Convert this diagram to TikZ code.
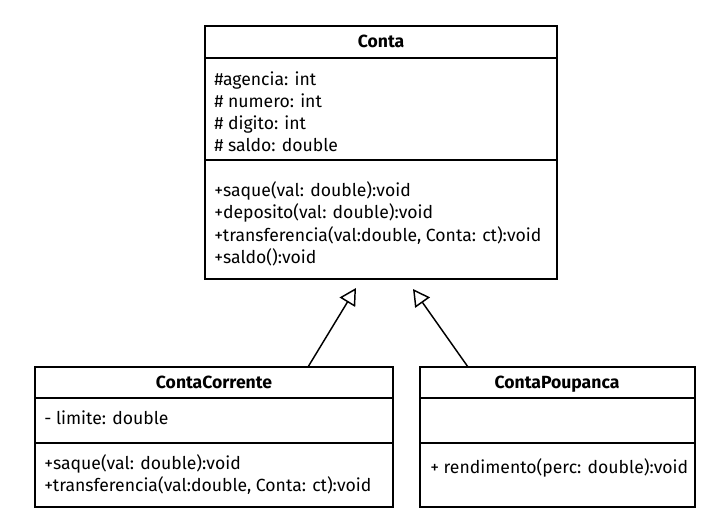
\documentclass[tikz,border=0pt]{standalone}
\usepackage{fontspec}
\setmainfont{Fira Sans}
\usetikzlibrary{arrows.meta}
\tikzset{
  box/.style={draw, line width=1.4pt},
  sep/.style={line width=1.1pt},
  txt/.style={anchor=west, inner sep=0pt, text height=9.5pt, text depth=3pt, font=\fontsize{13.2}{15}\selectfont},
  head/.style={anchor=center, inner sep=0pt, text height=9.5pt, text depth=3pt, font=\fontsize{13.2}{15}\selectfont\bfseries},
  inherit/.style={line width=1.1pt, -{Triangle[open, length=12.5pt, width=13.5pt, line width=1.1pt]}},
}
\begin{document}
\begin{tikzpicture}[x=0.75pt, y=-0.75pt]
\useasboundingbox (0,0) rectangle (719,515);
% Conta
\draw[box] (205,26) rectangle (557,279);
\draw[sep] (205,58) -- (557,58);
\draw[sep] (205,160) -- (557,160);
\node[head] (contaH) at (381,43) {Conta};
\node[txt] (a1) at (214,81) {\#agencia: int};
\node[txt] (a2) at (214,103) {\# numero: int};
\node[txt] (a3) at (214,125) {\# digito: int};
\node[txt] (a4) at (214,147) {\# saldo: double};
\node[txt] (m1) at (214,192) {+saque(val: double):void};
\node[txt] (m2) at (214,214) {+deposito(val: double):void};
\node[txt] (m3) at (214,237) {+transferencia(val:double, Conta: ct):void};
\node[txt] (m4) at (214,259) {+saldo():void};
% ContaCorrente
\draw[box] (35,367) rectangle (393,507);
\draw[sep] (35,398) -- (393,398);
\draw[sep] (35,443) -- (393,443);
\node[head] (ccH) at (214,384) {ContaCorrente};
\node[txt] (c1) at (44,420) {- limite: double};
\node[txt] (c2) at (44,465) {+saque(val: double):void};
\node[txt] (c3) at (44,487) {+transferencia(val:double, Conta: ct):void};
% ContaPoupanca
\draw[box] (420,367) rectangle (695,507);
\draw[sep] (420,398) -- (695,398);
\draw[sep] (420,443) -- (695,443);
\node[head] (cpH) at (557,384) {ContaPoupanca};
\node[txt] (p1) at (430,469) {+ rendimento(perc: double):void};
% inheritance
\coordinate (ccTop) at (308,367);
\coordinate (cpTop) at (468,367);
\coordinate (tipL) at (356,288);
\coordinate (tipR) at (413,289);
\draw[inherit] (ccTop) -- (tipL);
\draw[inherit] (cpTop) -- (tipR);
\end{tikzpicture}
\end{document}
